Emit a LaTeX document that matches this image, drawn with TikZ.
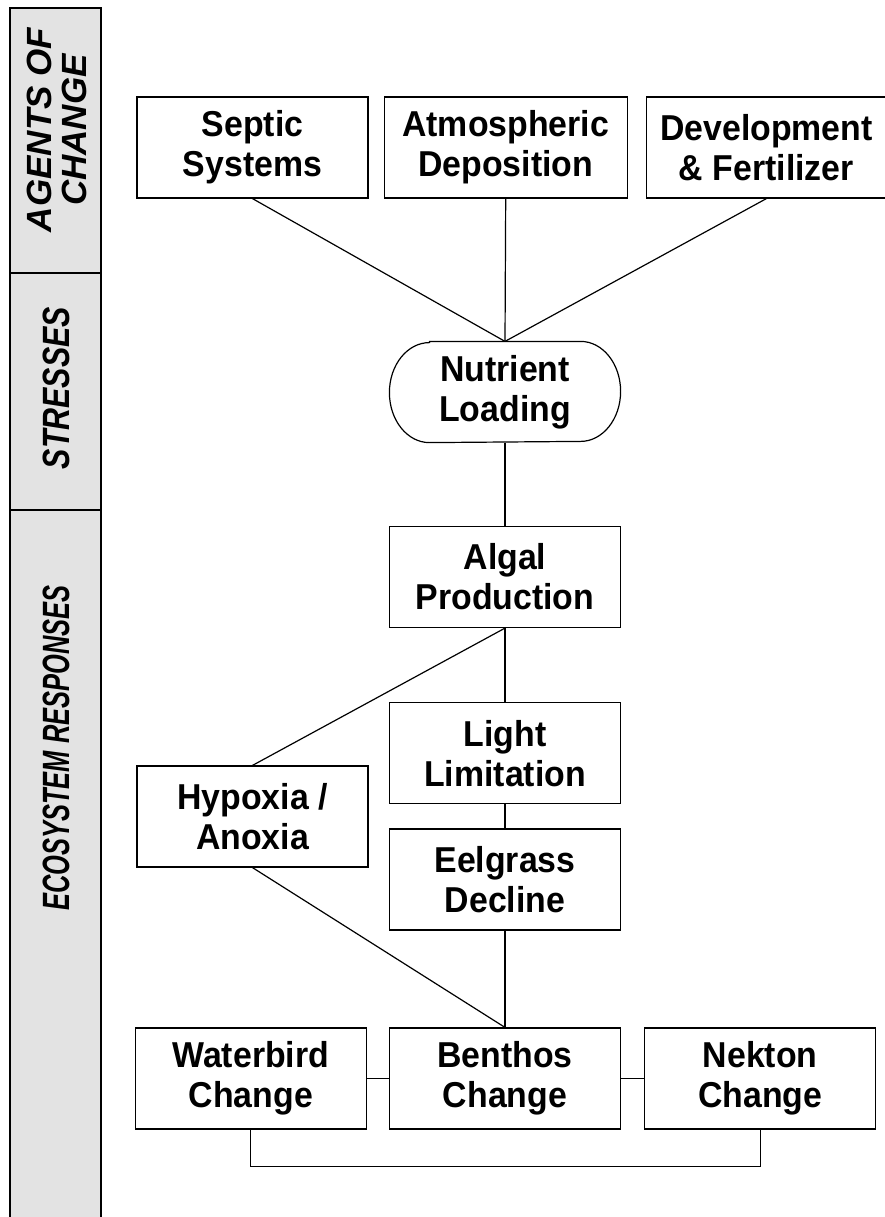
\documentclass[tikz,border=0pt]{standalone}
\usepackage{fontspec}
\setmainfont[FakeStretch=0.94]{Liberation Sans}
\newfontfamily\bandfont{Liberation Sans}
\usetikzlibrary{positioning}

\begin{document}
\begin{tikzpicture}[x=1pt, y=-1pt, font=\fontsize{36}{40}\selectfont\bfseries, line width=1.2pt]
\tikzstyle{box}=[draw, align=center, minimum width=231pt, minimum height=101pt, inner sep=0pt]
\tikzstyle{stressbox}=[align=center, minimum width=230pt, minimum height=100pt, inner sep=0pt]
\tikzstyle{band}=[draw, fill=gray!22]
\tikzstyle{bandlabel}=[rotate=90, align=center, inner sep=0pt, font=\bandfont\fontsize{38}{35}\selectfont\bfseries\itshape]
\useasboundingbox (0,0) rectangle (885,1217);
% side band
\draw[band] (10,1230) -- (10,8) -- (101,8) -- (101,1230);
\draw (10,273) -- (101,273);
\draw (10,510) -- (101,510);
\node[bandlabel, font=\bandfont\fontsize{35}{35}\selectfont\bfseries\itshape] (agents) at (57,130) {AGENTS OF\\CHANGE};
\node[bandlabel] (stress) at (56,388) {\scalebox{0.8}[1]{STRESSES}};
\node[bandlabel] (ecoresp) at (56,748) {\scalebox{0.67}[1]{ECOSYSTEM RESPONSES}};
% agents of change
\node[box] (septic) at (252.5,147.5) {Septic\\Systems};
\node[box, minimum width=243pt, right=15pt of septic] (atmos) {Atmospheric\\Deposition};
\node[box, minimum width=240pt, right=18pt of atmos] (devel) {Development\\\& Fertilizer};
% stresses
\node[stressbox] (load) at (505,392) {Nutrient\\Loading};
\draw ([xshift=40pt]load.north west) -- ([xshift=-40pt]load.north east)
  arc[start angle=90, end angle=-90, x radius=40pt, y radius=50pt]
  -- ([xshift=40pt]load.south west)
  arc[start angle=270, end angle=90, x radius=40pt, y radius=50pt] -- cycle;
% responses
\node[box] (algal) at (505,577) {Algal\\Production};
\node[box, below=74pt of algal] (light) {Light\\Limitation};
\node[box, below=24pt of light] (eel) {Eelgrass\\Decline};
\node[box] (hypox) at (252.5,816.5) {Hypoxia /\\Anoxia};
\node[box] (benth) at (505,1078.5) {Benthos\\Change};
\node[box, left=22pt of benth] (bird) {Waterbird\\Change};
\node[box, right=23pt of benth] (nekton) {Nekton\\Change};
\foreach \x in {septic,atmos,devel}{\draw (\x.south) -- (load.north);}
\foreach \x/\y in {load/algal,algal/light,algal/hypox,light/eel,eel/benth,hypox/benth}{\draw (\x.south) -- (\y.north);}
\draw (bird) -- (benth);
\draw (benth) -- (nekton);
\draw (bird.south) -- ++(0,37) -| (nekton.south);
\end{tikzpicture}
\end{document}
